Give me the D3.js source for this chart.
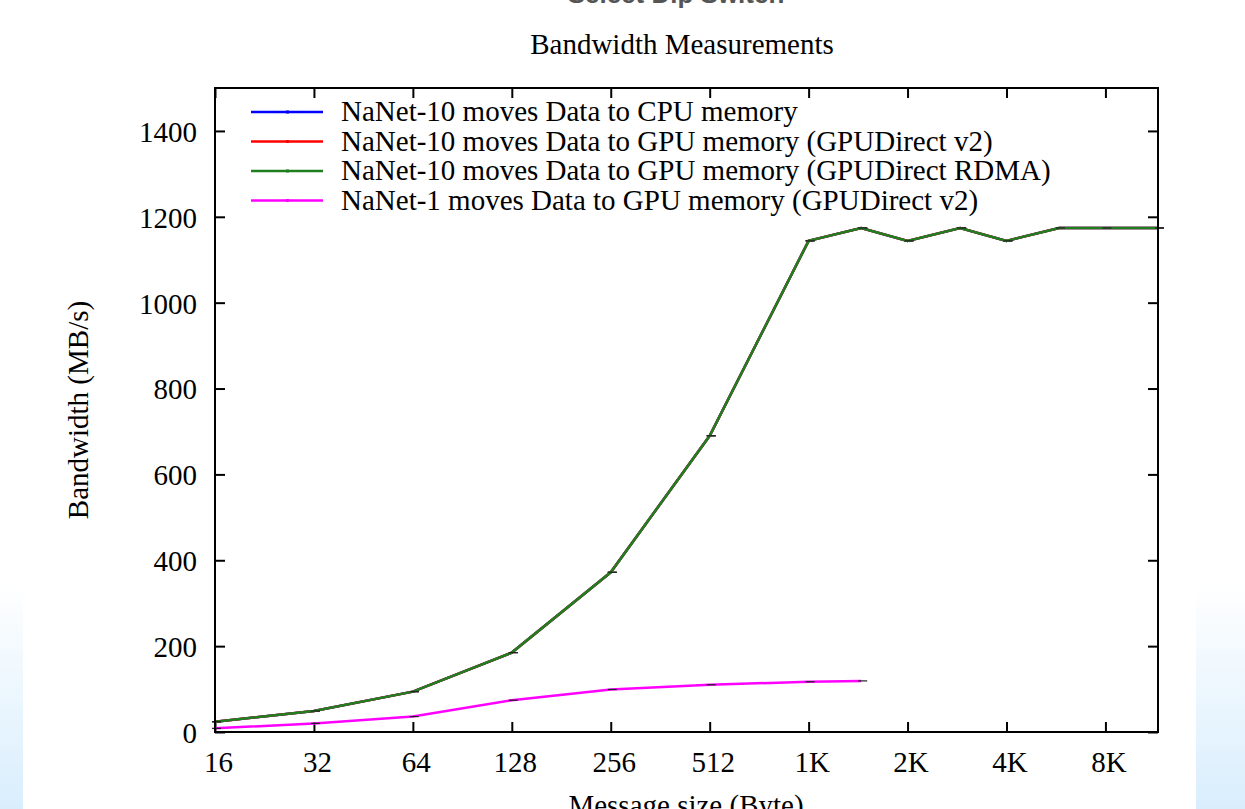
<!DOCTYPE html>
<html>
<head>
<meta charset="utf-8">
<script src="https://cdn.jsdelivr.net/npm/d3@7"></script>
<style>
  body { margin: 0; background: #fff; }
  svg { display: block; }
</style>
</head>
<body>
<svg id="chart" width="1245" height="809"></svg>
<script>
// Message sizes (bytes) on the log2 x axis
var sizesNaNet10 = [16, 32, 64, 128, 256, 512, 1024, 1480, 2048, 2960, 4096, 5920, 8192, 11840];
var sizesNaNet1 = [16, 32, 64, 128, 256, 512, 1024, 1480];

// Bandwidth values (MB/s)
var cpuValues  = [24, 49, 94, 185, 372, 690, 1144, 1174, 1144, 1174, 1144, 1174, 1174, 1174];
var gpuV2Values = [24, 49, 94, 185, 372, 690, 1144, 1174, 1144, 1174, 1144, 1174, 1174, 1174];
var rdmaValues = [24, 49, 94, 185, 372, 690, 1144, 1174, 1144, 1174, 1144, 1174, 1174, 1174];
var nanet1Values = [8.5, 20, 36, 74, 99, 110, 117, 119];

var seriesNames = [
  'NaNet-10 moves Data to CPU memory',
  'NaNet-10 moves Data to GPU memory (GPUDirect v2)',
  'NaNet-10 moves Data to GPU memory (GPUDirect RDMA)',
  'NaNet-1 moves Data to GPU memory (GPUDirect v2)'
];
var seriesColors = ['#0000ff', '#ff0000', '#1f7f1f', '#ff00ff'];

var xTickValues = [16, 32, 64, 128, 256, 512, 1024, 2048, 4096, 8192];
var xTickLabels = ['16', '32', '64', '128', '256', '512', '1K', '2K', '4K', '8K'];
var yTickValues = [0, 200, 400, 600, 800, 1000, 1200, 1400];

var series = [
  {name: seriesNames[0], color: seriesColors[0], x: sizesNaNet10, y: cpuValues},
  {name: seriesNames[1], color: seriesColors[1], x: sizesNaNet10, y: gpuV2Values},
  {name: seriesNames[2], color: seriesColors[2], x: sizesNaNet10, y: rdmaValues},
  {name: seriesNames[3], color: seriesColors[3], x: sizesNaNet1, y: nanet1Values}
];

var svg = d3.select('#chart');
var serif = '"Liberation Serif", "Times New Roman", serif';
var fontSize = '29px';

// side gradient panels of the slide
var defs = svg.append('defs');
var grad = defs.append('linearGradient').attr('id', 'sideGrad')
  .attr('x1', 0).attr('y1', 0).attr('x2', 0).attr('y2', 1);
grad.append('stop').attr('offset', '0%').attr('stop-color', '#ffffff');
grad.append('stop').attr('offset', '100%').attr('stop-color', '#d9eefd');
svg.append('rect').attr('x', 0).attr('y', 581).attr('width', 23).attr('height', 228).attr('fill', 'url(#sideGrad)');
svg.append('rect').attr('x', 1196).attr('y', 581).attr('width', 49).attr('height', 228).attr('fill', 'url(#sideGrad)');

// cut-off slide heading at the top
svg.append('text')
  .attr('x', 676).attr('y', 3)
  .attr('text-anchor', 'middle')
  .style('font-family', 'Arial, "Liberation Sans", sans-serif')
  .style('font-weight', 'bold')
  .style('font-size', '26px')
  .style('fill', '#555')
  .text('Select Dip Switch');

var margin = {top: 88, right: 87, bottom: 77, left: 215};
var width = 1245 - margin.left - margin.right;
var height = 809 - margin.top - margin.bottom;

var x = d3.scaleLog().base(2).domain([16, 11840]).range([0, width]);
var y = d3.scaleLinear().domain([0, 1500]).range([height, 0]);

var g = svg.append('g').attr('transform', 'translate(' + margin.left + ',' + margin.top + ')');

// title
svg.append('text')
  .attr('x', 682).attr('y', 54)
  .attr('text-anchor', 'middle')
  .style('font-family', serif)
  .style('font-size', fontSize)
  .style('fill', '#000')
  .text('Bandwidth Measurements');

// axes: inward ticks, mirrored on top and right
function styleAxis(sel) {
  sel.select('.domain').remove();
  sel.selectAll('.tick line').attr('stroke', '#000').attr('stroke-width', 2);
  sel.selectAll('.tick text')
    .style('font-family', serif)
    .style('font-size', fontSize)
    .style('fill', '#000');
}

var xAxis = g.append('g').attr('transform', 'translate(0,' + height + ')')
  .call(d3.axisBottom(x).tickValues(xTickValues)
    .tickFormat(function(d, i) { return xTickLabels[i]; })
    .tickSizeInner(-10).tickSizeOuter(0).tickPadding(19));
styleAxis(xAxis);
xAxis.selectAll('.tick text').attr('dx', 3);

g.append('g')
  .call(d3.axisTop(x).tickValues(xTickValues).tickFormat('').tickSizeInner(-10).tickSizeOuter(0))
  .call(styleAxis);

var yAxis = g.append('g')
  .call(d3.axisLeft(y).tickValues(yTickValues).tickFormat(d3.format('d'))
    .tickSizeInner(-10).tickSizeOuter(0).tickPadding(18));
styleAxis(yAxis);
yAxis.selectAll('.tick text').attr('dy', '0.36em');

g.append('g').attr('transform', 'translate(' + width + ',0)')
  .call(d3.axisRight(y).tickValues(yTickValues).tickFormat('').tickSizeInner(-10).tickSizeOuter(0))
  .call(styleAxis);

// axis labels
svg.append('text')
  .attr('transform', 'translate(88,410) rotate(-90)')
  .attr('text-anchor', 'middle')
  .style('font-family', serif)
  .style('font-size', fontSize)
  .style('fill', '#000')
  .text('Bandwidth (MB/s)');

svg.append('text')
  .attr('x', 686).attr('y', 815)
  .attr('text-anchor', 'middle')
  .style('font-family', serif)
  .style('font-size', fontSize)
  .style('fill', '#000')
  .text('Message size (Byte)');

// lines
var line = d3.line()
  .x(function(d) { return x(d[0]); })
  .y(function(d) { return y(d[1]); });

var plot = g.append('g');
series.forEach(function(s) {
  var pts = s.x.map(function(v, i) { return [v, s.y[i]]; });
  plot.append('path')
    .datum(pts)
    .attr('d', line)
    .attr('fill', 'none')
    .attr('stroke', s.color)
    .attr('stroke-width', 2.5);
  // small error bar caps at each point
  plot.selectAll(null)
    .data(pts)
    .enter().append('line')
    .attr('x1', function(d) { return x(d[0]) - 3; })
    .attr('x2', function(d) { return x(d[0]) + 6; })
    .attr('y1', function(d) { return y(d[1]); })
    .attr('y2', function(d) { return y(d[1]); })
    .attr('stroke', '#222')
    .attr('stroke-width', 1.2);
});

// frame
g.append('rect')
  .attr('width', width).attr('height', height)
  .attr('fill', 'none').attr('stroke', '#000').attr('stroke-width', 2);

// legend
var legend = g.append('g').attr('transform', 'translate(36,24)');
series.forEach(function(s, i) {
  var row = legend.append('g').attr('transform', 'translate(0,' + (i * 29.5) + ')');
  row.append('line')
    .attr('x1', 0).attr('x2', 72).attr('y1', 0).attr('y2', 0)
    .attr('stroke', s.color).attr('stroke-width', 2.5);
  row.append('rect')
    .attr('x', 35).attr('y', -1.5).attr('width', 3).attr('height', 3)
    .attr('fill', s.color);
  row.append('text')
    .attr('x', 90).attr('y', 0).attr('dy', '0.32em')
    .style('font-family', serif)
    .style('font-size', fontSize)
    .style('fill', '#000')
    .text(s.name);
});
</script>
</body>
</html>
